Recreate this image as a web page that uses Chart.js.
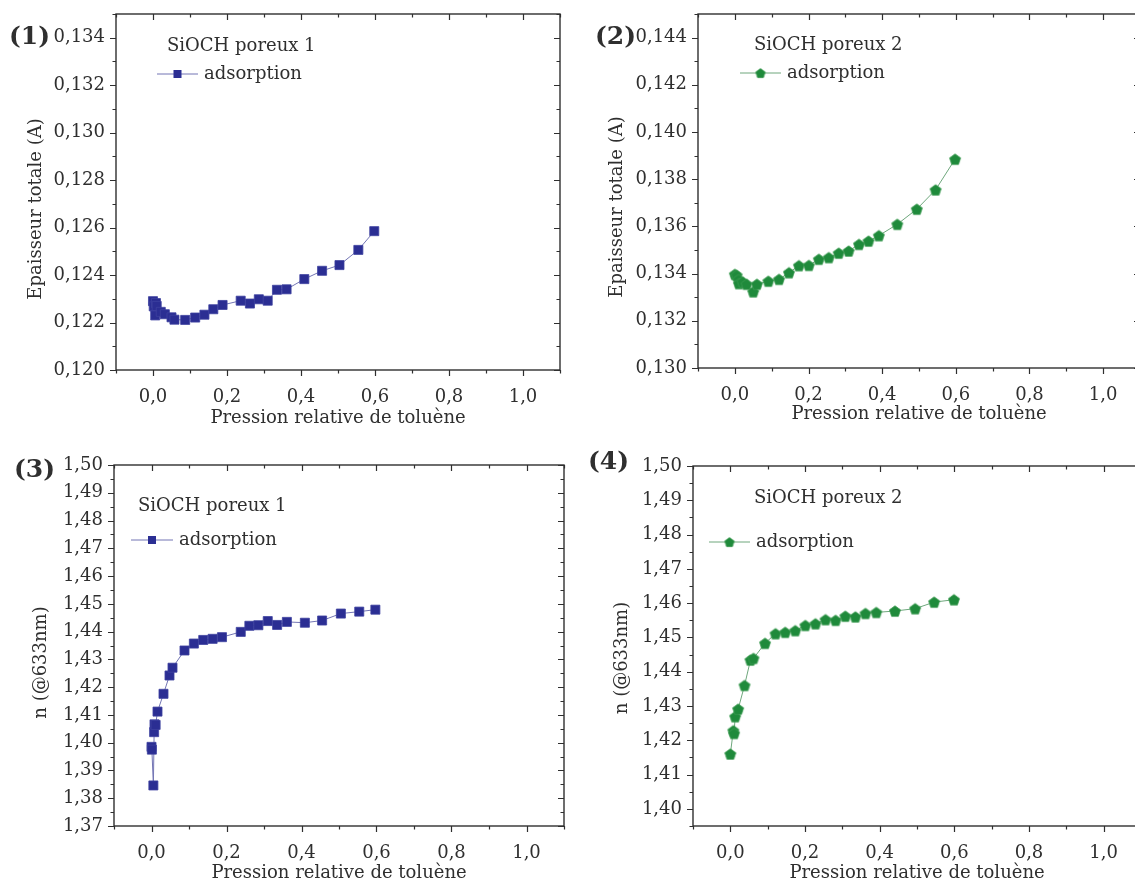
<!DOCTYPE html>
<html lang="fr">
<head>
<meta charset="utf-8">
<title>SiOCH poreux - adsorption toluène</title>
<script src="https://cdn.jsdelivr.net/npm/chart.js@4.4.1/dist/chart.umd.min.js"></script>
<style>
  html, body { margin: 0; padding: 0; background: #fff; overflow: hidden; }
  #wrap { position: relative; width: 1135px; height: 884px; overflow: hidden; }
  .panel { position: absolute; }
</style>
</head>
<body>
<div id="wrap">
  <canvas class="panel" id="c1" width="580" height="440" style="left:0;top:0"></canvas>
  <canvas class="panel" id="c2" width="580" height="440" style="left:580px;top:0"></canvas>
  <canvas class="panel" id="c3" width="580" height="444" style="left:0;top:440px"></canvas>
  <canvas class="panel" id="c4" width="580" height="444" style="left:580px;top:440px"></canvas>
</div>
<script>
/* ---------- data ---------- */
const X_TICKS = [0, 0.2, 0.4, 0.6, 0.8, 1.0];

// (1) SiOCH poreux 1 - épaisseur totale
const P1_X = [0.000, 0.002, 0.006, 0.008, 0.010, 0.021, 0.032, 0.050, 0.058, 0.087, 0.114, 0.139, 0.163, 0.188, 0.237, 0.262, 0.286, 0.310, 0.335, 0.361, 0.409, 0.457, 0.504, 0.555, 0.598];
const P1_Y = [0.12290, 0.12268, 0.12230, 0.12282, 0.12270, 0.12245, 0.12235, 0.12222, 0.12212, 0.12211, 0.12221, 0.12233, 0.12256, 0.12274, 0.12292, 0.12280, 0.12298, 0.12292, 0.12338, 0.12340, 0.12383, 0.12418, 0.12442, 0.12506, 0.12585];
const Y1_TICKS = [0.120, 0.122, 0.124, 0.126, 0.128, 0.130, 0.132, 0.134];

// (2) SiOCH poreux 2 - épaisseur totale
const P2_X = [0.000, 0.005, 0.010, 0.011, 0.021, 0.032, 0.050, 0.060, 0.091, 0.120, 0.147, 0.174, 0.201, 0.228, 0.255, 0.282, 0.309, 0.337, 0.363, 0.391, 0.441, 0.494, 0.545, 0.598];
const P2_Y = [0.13397, 0.13393, 0.13375, 0.13358, 0.13365, 0.13355, 0.13323, 0.13355, 0.13368, 0.13376, 0.13404, 0.13434, 0.13435, 0.13461, 0.13468, 0.13487, 0.13496, 0.13524, 0.13538, 0.13561, 0.13609, 0.13673, 0.13755, 0.13885];
const Y2_TICKS = [0.130, 0.132, 0.134, 0.136, 0.138, 0.140, 0.142, 0.144];

// (3) SiOCH poreux 1 - indice n
const P3_X = [0.000, 0.001, 0.005, 0.007, 0.008, 0.011, 0.016, 0.032, 0.048, 0.056, 0.088, 0.113, 0.138, 0.163, 0.188, 0.238, 0.261, 0.285, 0.310, 0.335, 0.361, 0.409, 0.455, 0.505, 0.554, 0.597];
const P3_Y = [1.3985, 1.3975, 1.3846, 1.4038, 1.4066, 1.4064, 1.4112, 1.4176, 1.4242, 1.4270, 1.4332, 1.4357, 1.4370, 1.4374, 1.4380, 1.4399, 1.4421, 1.4423, 1.4438, 1.4424, 1.4435, 1.4432, 1.4440, 1.4465, 1.4472, 1.4479];
const Y3_TICKS = [1.37, 1.38, 1.39, 1.40, 1.41, 1.42, 1.43, 1.44, 1.45, 1.46, 1.47, 1.48, 1.49, 1.50];

// (4) SiOCH poreux 2 - indice n
const P4_X = [0.000, 0.008, 0.010, 0.013, 0.021, 0.038, 0.054, 0.062, 0.093, 0.121, 0.147, 0.174, 0.201, 0.228, 0.255, 0.282, 0.308, 0.335, 0.362, 0.391, 0.441, 0.495, 0.546, 0.599];
const P4_Y = [1.4160, 1.4228, 1.4220, 1.4269, 1.4291, 1.4360, 1.4434, 1.4439, 1.4483, 1.4511, 1.4515, 1.4520, 1.4535, 1.4540, 1.4552, 1.4550, 1.4562, 1.4560, 1.4570, 1.4573, 1.4577, 1.4584, 1.4603, 1.4610];
const Y4_TICKS = [1.40, 1.41, 1.42, 1.43, 1.44, 1.45, 1.46, 1.47, 1.48, 1.49, 1.50];

/* ---------- style ---------- */
const FONT = "'DejaVu Serif', 'Liberation Serif', serif";
const INK = '#2f2f2f';
const BLUE = '#2b2e93';
const BLUE_LINE = '#7375b4';
const GREEN = '#1f8a3b';
const GREEN_LINE = '#6ea77c';

function pentagon(color, r) {
  const s = Math.ceil(r * 2 + 2);
  const c = document.createElement('canvas');
  c.width = s; c.height = s;
  const g = c.getContext('2d');
  g.beginPath();
  for (let i = 0; i < 5; i++) {
    const a = -Math.PI / 2 + i * 2 * Math.PI / 5;
    g.lineTo(s / 2 + r * Math.cos(a), s / 2 + 0.6 + r * Math.sin(a));
  }
  g.closePath();
  g.fillStyle = color; g.fill();
  g.strokeStyle = '#3c9a52'; g.lineWidth = 0.8; g.stroke();
  return c;
}
const PENTA = pentagon(GREEN, 5.8);
const PENTA_SMALL = pentagon(GREEN, 5.0);

const comma = (v, d) => v.toFixed(d).replace('.', ',');

// major ticks from the scale, minor ticks half way between them
function tickSet(scale) {
  const vals = scale.ticks.map(t => t.value);
  const step = vals[1] - vals[0];
  const eps = step * 1e-3;
  const out = vals.map(v => ({ v, major: true }));
  for (let i = -1; i < vals.length; i++) {
    const m = i < 0 ? vals[0] - step / 2 : vals[i] + step / 2;
    if (m >= scale.min - eps && m <= scale.max + eps) out.push({ v: m, major: false });
  }
  return out;
}

/* box frame + mirrored ticks, Origin style */
const framePlugin = {
  id: 'frame',
  afterDatasetsDraw(chart) {
    const { ctx, chartArea: a, scales } = chart;
    const x = scales.x, y = scales.y;
    ctx.save();
    ctx.strokeStyle = INK;
    ctx.lineWidth = 1.4;
    ctx.strokeRect(a.left, a.top, a.right - a.left, a.bottom - a.top);
    ctx.lineWidth = 1.2;
    ctx.beginPath();
    tickSet(x).forEach(t => {
      const px = Math.round(x.getPixelForValue(t.v)) + 0.5;
      const L = t.major ? 6 : 3.5;
      ctx.moveTo(px, a.bottom); ctx.lineTo(px, a.bottom + L);
      ctx.moveTo(px, a.top); ctx.lineTo(px, a.top + L);
    });
    tickSet(y).forEach(t => {
      const py = Math.round(y.getPixelForValue(t.v)) + 0.5;
      const L = t.major ? 6 : 3.5;
      ctx.moveTo(a.left, py); ctx.lineTo(a.left - L, py);
      ctx.moveTo(a.right, py); ctx.lineTo(a.right - L, py);
    });
    ctx.stroke();
    ctx.restore();
  }
};

/* panel tag "(n)", y-axis title and the in-plot legend */
const annotPlugin = {
  id: 'annot',
  afterDraw(chart, args, o) {
    const ctx = chart.ctx;
    const a = chart.chartArea;
    const ds = chart.data.datasets[0];
    ctx.save();
    ctx.fillStyle = INK;
    ctx.textBaseline = 'middle';
    ctx.textAlign = 'left';
    ctx.font = `bold 25px ${FONT}`;
    ctx.fillText(o.tag, o.tagX, o.tagY);

    ctx.font = `18px ${FONT}`;
    ctx.save();
    ctx.translate(o.yTitleX, (a.top + a.bottom) / 2 + o.yTitleShift);
    ctx.rotate(-Math.PI / 2);
    ctx.textAlign = 'center';
    ctx.fillText(o.yTitle, 0, 0);
    ctx.restore();

    ctx.fillText(o.name, o.nameX, o.nameY);
    ctx.strokeStyle = ds.borderColor;
    ctx.lineWidth = 1;
    ctx.beginPath();
    ctx.moveTo(o.lineX1, o.lineY); ctx.lineTo(o.lineX2, o.lineY);
    ctx.stroke();
    const mx = (o.lineX1 + o.lineX2) / 2;
    if (ds.pointStyle === 'rect') {
      ctx.fillStyle = ds.pointBackgroundColor;
      ctx.fillRect(mx - 4, o.lineY - 4, 8, 8);
    } else {
      ctx.drawImage(PENTA_SMALL, mx - PENTA_SMALL.width / 2, o.lineY - PENTA_SMALL.height / 2);
    }
    ctx.fillStyle = INK;
    ctx.fillText(ds.label, o.textX, o.lineY);
    ctx.restore();
  }
};

function makePanel(id, p) {
  const isBlue = p.series === 'blue';
  new Chart(document.getElementById(id), {
    type: 'scatter',
    data: {
      datasets: [{
        label: 'adsorption',
        data: p.xs.map((v, i) => ({ x: v, y: p.ys[i] })),
        showLine: true,
        borderColor: isBlue ? BLUE_LINE : GREEN_LINE,
        borderWidth: 1,
        pointStyle: isBlue ? 'rect' : PENTA,
        pointRadius: 6.4,
        pointHoverRadius: 6.4,
        pointBackgroundColor: isBlue ? BLUE : GREEN,
        pointBorderColor: isBlue ? '#3e41a0' : GREEN,
        pointBorderWidth: 0.8,
        tension: 0,
      }]
    },
    options: {
      responsive: false,
      animation: false,
      events: [],
      layout: { padding: { top: p.pad.top, right: p.pad.right, left: 0, bottom: 0 } },
      plugins: {
        legend: { display: false },
        tooltip: { enabled: false },
        annot: Object.assign({ yTitle: p.yTitle }, p.annot),
      },
      scales: {
        x: {
          type: 'linear',
          min: -0.1, max: 1.1,
          afterBuildTicks: s => { s.ticks = X_TICKS.map(v => ({ value: v })); },
          afterFit: s => { s.height = p.xH; s.paddingLeft = 0; s.paddingRight = 0; },
          grid: { display: false, drawTicks: false },
          border: { display: false },
          ticks: {
            padding: 17,
            color: INK,
            font: { family: FONT, size: 18 },
            maxRotation: 0,
            callback: v => comma(v, 1),
          },
          title: {
            display: true,
            text: 'Pression relative de toluène',
            color: INK,
            font: { family: FONT, size: 18 },
            padding: { top: 0, bottom: p.xTitlePad },
          },
        },
        y: {
          type: 'linear',
          min: p.yMin, max: p.yMax,
          afterBuildTicks: s => { s.ticks = p.yTicks.map(v => ({ value: v })); },
          afterFit: s => { s.width = p.yW; s.paddingTop = 0; s.paddingBottom = 0; },
          grid: { display: false, drawTicks: false },
          border: { display: false },
          ticks: {
            padding: 11,
            color: INK,
            font: { family: FONT, size: 18 },
            callback: v => comma(v, p.yDec),
          },
          title: { display: false },
        }
      }
    },
    plugins: [framePlugin, annotPlugin]
  });
}

makePanel('c1', {
  series: 'blue', xs: P1_X, ys: P1_Y, yTicks: Y1_TICKS, yMin: 0.120, yMax: 0.135, yDec: 3,
  yTitle: 'Epaisseur totale (A)', pad: { top: 14, right: 20 }, yW: 116, xH: 70, xTitlePad: 11,
  annot: { tag: '(1)', tagX: 9, tagY: 37, yTitleX: 36, yTitleShift: 17, name: 'SiOCH poreux 1', nameX: 167, nameY: 46, lineX1: 157, lineX2: 198, lineY: 74, textX: 204 },
});
makePanel('c2', {
  series: 'green', xs: P2_X, ys: P2_Y, yTicks: Y2_TICKS, yMin: 0.130, yMax: 0.145, yDec: 3,
  yTitle: 'Epaisseur totale (A)', pad: { top: 14, right: 20 }, yW: 118, xH: 72, xTitlePad: 15,
  annot: { tag: '(2)', tagX: 15, tagY: 37, yTitleX: 37, yTitleShift: 16, name: 'SiOCH poreux 2', nameX: 174, nameY: 45, lineX1: 160, lineX2: 201, lineY: 73, textX: 207 },
});
makePanel('c3', {
  series: 'blue', xs: P3_X, ys: P3_Y, yTicks: Y3_TICKS, yMin: 1.37, yMax: 1.50, yDec: 2,
  yTitle: 'n (@633nm)', pad: { top: 25, right: 16 }, yW: 114, xH: 58, xTitlePad: 0,
  annot: { tag: '(3)', tagX: 14, tagY: 30, yTitleX: 41, yTitleShift: 17, name: 'SiOCH poreux 1', nameX: 138, nameY: 66, lineX1: 131, lineX2: 173, lineY: 100, textX: 179 },
});
makePanel('c4', {
  series: 'green', xs: P4_X, ys: P4_Y, yTicks: Y4_TICKS, yMin: 1.395, yMax: 1.50, yDec: 2,
  yTitle: 'n (@633nm)', pad: { top: 26, right: 19 }, yW: 113, xH: 58, xTitlePad: 0,
  annot: { tag: '(4)', tagX: 8, tagY: 22, yTitleX: 42, yTitleShift: 12, name: 'SiOCH poreux 2', nameX: 174, nameY: 58, lineX1: 129, lineX2: 170, lineY: 102, textX: 176 },
});
</script>
</body>
</html>
